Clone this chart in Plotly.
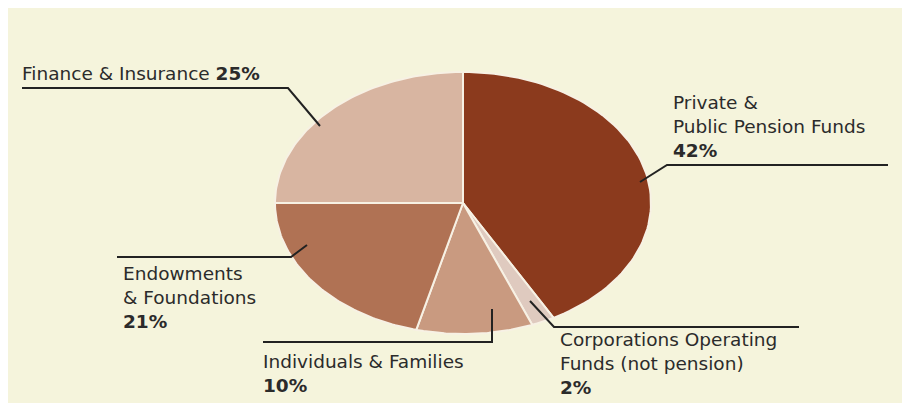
import numpy as np
import plotly.graph_objects as go

# ---- data ----
categories = ["Private & Public Pension Funds", "Corporations Operating Funds (not pension)",
              "Individuals & Families", "Endowments & Foundations", "Finance & Insurance"]
values = [42, 2, 10, 21, 25]
colors = ["#8B3A1D", "#DFCABF", "#C99A80", "#B07254", "#D8B5A1"]
label_texts = [
    "Private &<br>Public Pension Funds<br><b>42%</b>",
    "Corporations Operating<br>Funds (not pension)<br><b>2%</b>",
    "Individuals & Families<br><b>10%</b>",
    "Endowments<br>& Foundations<br><b>21%</b>",
    "Finance & Insurance <b>25%</b>",
]

W, H = 910, 395
OFF = 8                      # page body margin: figure starts 8px in
BG = "#F5F4DC"
CX, CY, RX, RY = 463 - OFF, 203 - OFF, 188, 131   # pie centre / radii in figure pixels


def px(x):
    return (x - OFF) / W


def py(y):
    return 1 - (y - OFF) / H


fig = go.Figure()

total = sum(values)
start = 0.0
for cat, v, c in zip(categories, values, colors):
    end = start + v / total * 2 * np.pi
    t = np.linspace(start, end, 80)
    xs = np.concatenate([[0], np.sin(t), [0]])
    ys = np.concatenate([[0], np.cos(t), [0]])
    fig.add_trace(go.Scatter(x=xs, y=ys, fill="toself", fillcolor=c, mode="lines",
                             line=dict(color="#F7F1E4", width=2), name=cat,
                             hoverinfo="name", showlegend=False))
    start = end

# axes set up so that the unit circle maps to the ellipse in the picture
x_rng = [(0 - CX) / RX, (W - CX) / RX]
y_rng = [-(H - CY) / RY, CY / RY]
fig.update_xaxes(range=x_rng, visible=False, fixedrange=True)
fig.update_yaxes(range=y_rng, visible=False, fixedrange=True)

shapes = []
lc = dict(color="#222222", width=2)
# leader lines, given in screen pixels of the reference
leaders = [
    [(22, 88), (288, 88), (320, 126)],          # Finance
    [(640, 182), (667, 165), (888, 165)],       # Pension
    [(117, 257), (291, 257), (307, 245)],       # Endowments
    [(263, 342), (492, 342), (492, 309)],       # Individuals
    [(530, 301), (554, 327), (799, 327)],       # Corporations
]
for pts in leaders:
    path = "M " + " L ".join(f"{px(x)},{py(y)}" for x, y in pts)
    shapes.append(dict(type="path", xref="paper", yref="paper", path=path, line=lc))

label_pos = {
    "Finance & Insurance": (20, 73),
    "Private & Public Pension Funds": (671, 126),
    "Endowments & Foundations": (121, 297),
    "Individuals & Families": (261, 373),
    "Corporations Operating Funds (not pension)": (558, 363),
}
annotations = []
for cat, txt in zip(categories, label_texts):
    x, y = label_pos[cat]
    annotations.append(dict(x=px(x), y=py(y), xref="paper", yref="paper", text=txt,
                            showarrow=False, xanchor="left", yanchor="middle", align="left",
                            font=dict(family="DejaVu Sans", size=18.5, color="#2B2B2B")))

fig.update_layout(width=W, height=H, margin=dict(l=0, r=0, t=0, b=0),
                  paper_bgcolor=BG, plot_bgcolor="rgba(0,0,0,0)",
                  shapes=shapes, annotations=annotations)

fig.write_html("out.html")
